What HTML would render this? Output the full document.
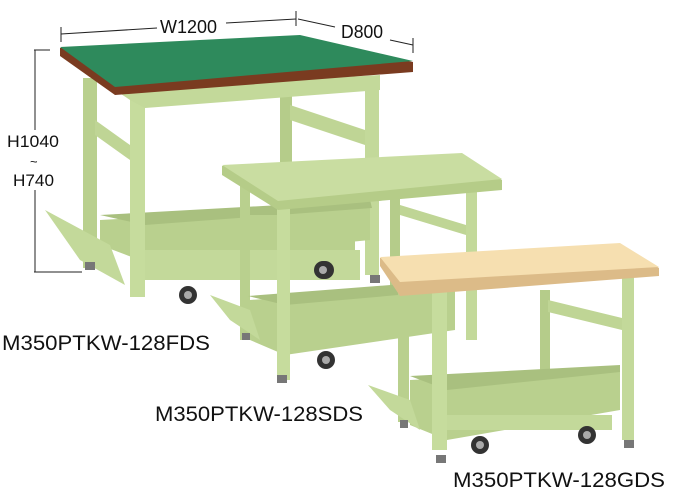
<!DOCTYPE html>
<html><head><meta charset="utf-8"><style>
html,body{margin:0;padding:0;background:#fff;width:680px;height:496px;overflow:hidden}
svg{display:block}
text{font-family:"Liberation Sans",sans-serif;fill:#111}
</style></head><body>
<svg width="680" height="496" viewBox="0 0 680 496">
<defs>
<g id="caster"><circle r="9" fill="#333"/><circle r="4" fill="#aaa"/></g>
</defs>
<g stroke="#222" stroke-width="1" fill="none">
<line x1="61" y1="34" x2="157" y2="28"/><line x1="226" y1="23" x2="296" y2="19"/>
<line x1="61" y1="27" x2="61" y2="42"/><line x1="296" y1="11" x2="296" y2="26"/>
<line x1="298" y1="19" x2="335" y2="27"/><line x1="390" y1="40" x2="413" y2="45"/>
<line x1="413" y1="38" x2="413" y2="53"/>
<line x1="34" y1="50" x2="50" y2="50"/><line x1="34" y1="272" x2="82" y2="272"/>
<line x1="35" y1="50" x2="35" y2="130"/><line x1="35" y1="190" x2="35" y2="272"/>
</g>
<text x="160" y="33" font-size="18" textLength="57" lengthAdjust="spacingAndGlyphs">W1200</text>
<text x="341" y="38" font-size="18" textLength="42" lengthAdjust="spacingAndGlyphs">D800</text>
<text x="7" y="147" font-size="17" textLength="52" lengthAdjust="spacingAndGlyphs">H1040</text>
<text x="30" y="166" font-size="13">~</text>
<text x="13" y="186" font-size="17" textLength="41" lengthAdjust="spacingAndGlyphs">H740</text>

<!-- TABLE 1 -->
<g>
<rect x="83" y="78" width="14" height="190" fill="#b9d08e"/>
<rect x="280" y="95" width="12" height="140" fill="#b5cc8a"/>
<rect x="365" y="80" width="14" height="195" fill="#c3d99a"/>
<polygon points="95,120 130,145 130,160 95,135" fill="#bfd595"/>
<polygon points="290,105 365,130 365,145 290,120" fill="#bfd595"/>
<polygon points="100,220 370,205 370,240 145,262 100,245" fill="#b9d08e"/>
<polygon points="100,215 370,200 372,208 145,225" fill="#a9c07f"/>
<rect x="145" y="250" width="215" height="30" fill="#c3d99a"/>
<polygon points="45,210 110,245 125,285 80,260" fill="#c3d99a"/>
<rect x="130" y="92" width="15" height="205" fill="#c6dc9d"/>
<polygon points="115,90 380,75 380,90 145,108 130,100" fill="#c3d99a"/>
<use href="#caster" x="188" y="295"/><use href="#caster" x="325" y="270"/>
<rect x="85" y="262" width="10" height="8" fill="#777"/>
<rect x="370" y="275" width="10" height="8" fill="#777"/>
<polygon points="60,48 300,36 413,62 413,72 115,95 60,56" fill="#7a3b20"/>
<polygon points="60,47 300,35 413,61 115,87" fill="#2e8a5c"/>
</g>

<!-- TABLE 2 -->
<g>
<rect x="240" y="180" width="10" height="160" fill="#b9d08e"/>
<rect x="390" y="190" width="10" height="110" fill="#b5cc8a"/>
<rect x="466" y="190" width="11" height="150" fill="#c3d99a"/>
<polygon points="400,205 466,225 466,235 400,215" fill="#bfd595"/>
<polygon points="250,300 455,285 455,330 285,355 250,340" fill="#b9d08e"/>
<polygon points="248,296 455,280 455,290 285,305" fill="#a9c07f"/>
<rect x="250" y="215" width="105" height="35" fill="#b9d08e"/>
<polygon points="210,295 250,310 260,340 230,320" fill="#c3d99a"/>
<rect x="277" y="205" width="13" height="175" fill="#c6dc9d"/>
<use href="#caster" x="323" y="270"/><use href="#caster" x="326" y="360"/>
<rect x="277" y="375" width="10" height="8" fill="#777"/>
<rect x="242" y="333" width="8" height="7" fill="#777"/>
<polygon points="222,166 462,154 502,180 502,190 278,210 222,175" fill="#b5cc88"/>
<polygon points="222,165 462,153 502,179 278,201" fill="#c9dda1"/>
</g>

<!-- TABLE 3 -->
<g>
<rect x="398" y="282" width="11" height="140" fill="#b9d08e"/>
<rect x="540" y="290" width="10" height="100" fill="#b5cc8a"/>
<rect x="622" y="275" width="12" height="165" fill="#c3d99a"/>
<polygon points="548,300 622,318 622,330 548,312" fill="#bfd595"/>
<polygon points="410,380 620,370 620,410 447,440 410,425" fill="#b9d08e"/>
<polygon points="410,376 620,365 620,372 447,390" fill="#a9c07f"/>
<rect x="447" y="415" width="165" height="15" fill="#c3d99a"/>
<polygon points="368,385 410,400 420,430 390,410" fill="#c3d99a"/>
<rect x="432" y="285" width="15" height="165" fill="#c6dc9d"/>
<use href="#caster" x="480" y="445"/><use href="#caster" x="587" y="435"/>
<rect x="436" y="455" width="10" height="8" fill="#777"/>
<rect x="624" y="440" width="10" height="8" fill="#777"/>
<rect x="400" y="420" width="8" height="8" fill="#777"/>
<polygon points="380,258 620,244 659,268 659,276 400,296 380,266" fill="#dcbb88"/>
<polygon points="380,257 620,243 659,267 400,282" fill="#f6dfb0"/>
</g>

<text x="2" y="350" font-size="21" textLength="208" lengthAdjust="spacingAndGlyphs">M350PTKW-128FDS</text>
<text x="155" y="421" font-size="21" textLength="208" lengthAdjust="spacingAndGlyphs">M350PTKW-128SDS</text>
<text x="453" y="487" font-size="21" textLength="212" lengthAdjust="spacingAndGlyphs">M350PTKW-128GDS</text>
</svg>
</body></html>
